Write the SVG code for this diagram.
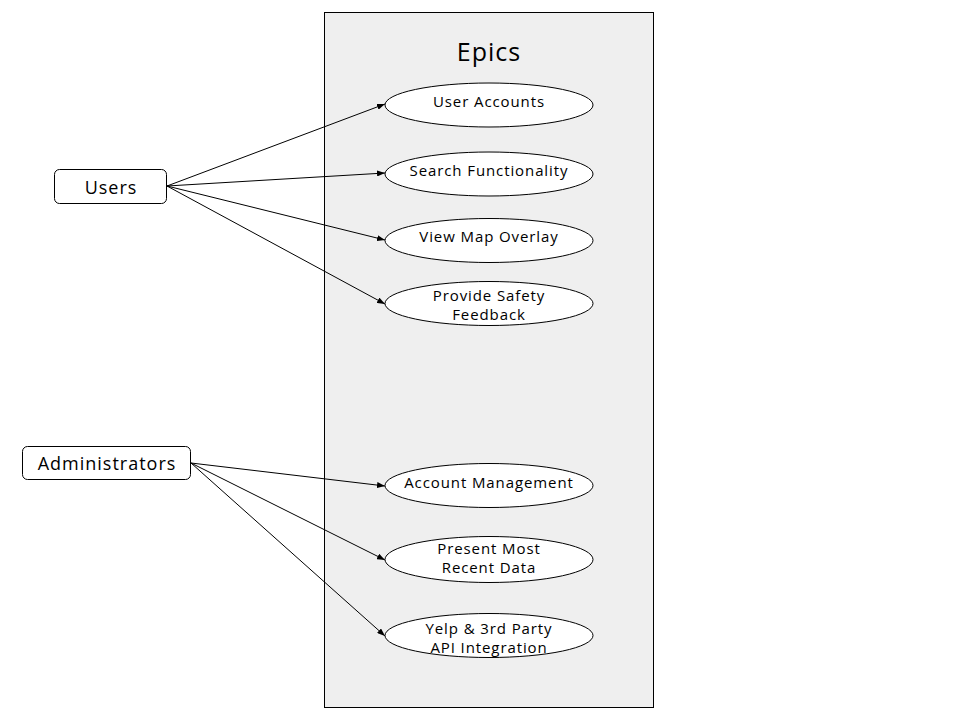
<svg xmlns="http://www.w3.org/2000/svg" width="960" height="720" viewBox="0 0 960 720">
<defs>
<marker id="ah" markerWidth="8" markerHeight="6" refX="8" refY="3" orient="auto" markerUnits="userSpaceOnUse">
<path d="M0,0 L8,3 L0,6 Z" fill="#000"/>
</marker>
<style>
text{font-family:"Open Sans","Liberation Sans",sans-serif;fill:#000;text-anchor:middle}
.ep{fill:#fff;stroke:#000;stroke-width:1}
.lbl{font-size:15px;letter-spacing:0.9px}
.act{fill:#fff;stroke:#000;stroke-width:1}
.c{stroke:#000;stroke-width:1;fill:none;marker-end:url(#ah)}
</style>
</defs>
<rect width="960" height="720" fill="#fff"/>
<g id="epics">
<rect x="324.5" y="12.5" width="329" height="695" fill="#efefef" stroke="#000"/>
<text x="489" y="61" style="font-size:25px;letter-spacing:1px">Epics</text>
</g>
<g id="connectors">
<line class="c" x1="167" y1="186" x2="385" y2="104"/>
<line class="c" x1="167" y1="186" x2="385" y2="173"/>
<line class="c" x1="167" y1="186" x2="385" y2="240"/>
<line class="c" x1="167" y1="186" x2="385" y2="304"/>
<line class="c" x1="191" y1="463" x2="385" y2="486"/>
<line class="c" x1="191" y1="463" x2="385" y2="560"/>
<line class="c" x1="191" y1="463" x2="385" y2="636"/>
</g>
<g id="users">
<rect class="act" x="54.5" y="169.5" width="112" height="34" rx="5"/>
<text x="111" y="194" style="font-size:18px;letter-spacing:1px">Users</text>
</g>
<g id="administrators">
<rect class="act" x="22.5" y="446.5" width="168" height="33" rx="5"/>
<text x="107" y="470" style="font-size:18px;letter-spacing:1px">Administrators</text>
</g>
<g id="user-accounts">
<ellipse class="ep" cx="489" cy="105" rx="104" ry="22"/>
<text class="lbl" x="489" y="107">User Accounts</text>
</g>
<g id="search">
<ellipse class="ep" cx="489" cy="174" rx="104" ry="22"/>
<text class="lbl" x="489" y="176">Search Functionality</text>
</g>
<g id="view-map">
<ellipse class="ep" cx="489" cy="240.5" rx="104" ry="22"/>
<text class="lbl" x="489" y="242">View Map Overlay</text>
</g>
<g id="safety">
<ellipse class="ep" cx="489" cy="303.5" rx="104" ry="22"/>
<text class="lbl" x="489" y="301">Provide Safety</text>
<text class="lbl" x="489" y="320">Feedback</text>
</g>
<g id="account-management">
<ellipse class="ep" cx="489" cy="485.5" rx="104" ry="22"/>
<text class="lbl" x="489" y="488">Account Management</text>
</g>
<g id="recent-data">
<ellipse class="ep" cx="489" cy="559.5" rx="104" ry="23"/>
<text class="lbl" x="489" y="554">Present Most</text>
<text class="lbl" x="489" y="573">Recent Data</text>
</g>
<g id="yelp">
<ellipse class="ep" cx="489" cy="635.5" rx="104" ry="22"/>
<text class="lbl" x="489" y="634">Yelp &amp; 3rd Party</text>
<text class="lbl" x="489" y="653">API Integration</text>
</g>
</svg>
